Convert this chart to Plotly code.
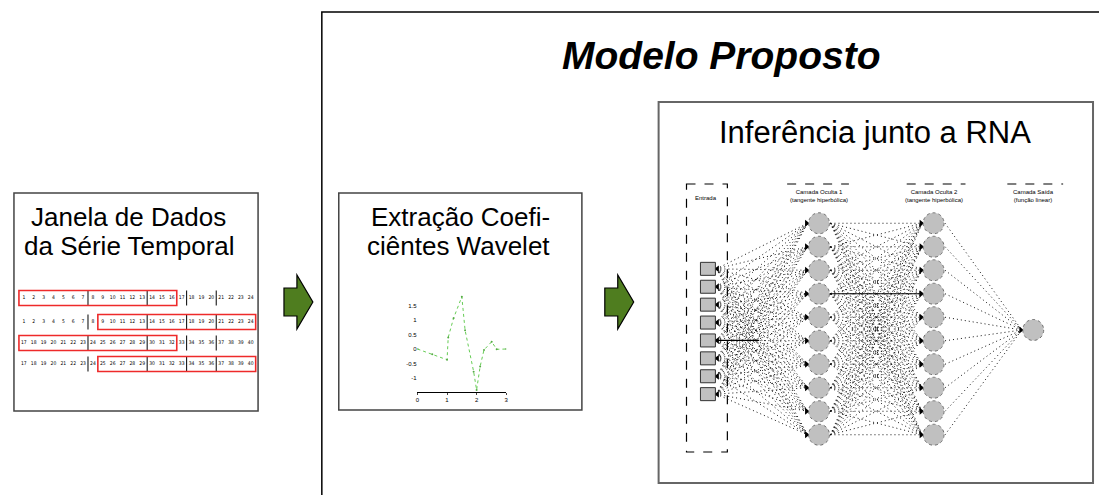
import plotly.graph_objects as go

# ---------------- data ----------------
row_numbers = [
    [1, 2, 3, 4, 5, 6, 7, 8, 9, 10, 11, 12, 13, 14, 15, 16, 17, 18, 19, 20, 21, 22, 23, 24],
    [1, 2, 3, 4, 5, 6, 7, 8, 9, 10, 11, 12, 13, 14, 15, 16, 17, 18, 19, 20, 21, 22, 23, 24],
    [17, 18, 19, 20, 21, 22, 23, 24, 25, 26, 27, 28, 29, 30, 31, 32, 33, 34, 35, 36, 37, 38, 39, 40],
    [17, 18, 19, 20, 21, 22, 23, 24, 25, 26, 27, 28, 29, 30, 31, 32, 33, 34, 35, 36, 37, 38, 39, 40],
]
window_start = [0, 8, 0, 8]
window_size = 16
group_breaks = [7, 13, 17, 20]

wavelet_t = [0.0, 0.5, 1.0, 1.04, 1.22, 1.5, 1.61, 1.9, 2.0, 2.12, 2.25, 2.51, 2.68, 3.0]
wavelet_v = [0.0, -0.18, -0.37, 0.4, 1.06, 1.8, 0.65, -0.78, -1.41, -0.6, -0.03, 0.25, -0.01, 0.0]
wavelet_xticks = [0, 1, 2, 3]
wavelet_yticks = [-1, -0.5, 0, 0.5, 1, 1.5]
wavelet_yticktext = ["-1", "-0.5", "0", "0.5", "1", "1.5"]

layer_sizes = [8, 10, 10, 1]
layer_titles = ["Entrada",
                "Camada Oculta 1<br>(tangente hiperbólica)",
                "Camada Oculta 2<br>(tangente hiperbólica)",
                "Camada Saída<br>(função linear)"]

box_titles = {
    "janela": ["Janela de Dados", "da Série Temporal"],
    "wavelet": ["Extração Coefi-", "ciêntes Wavelet"],
    "rna": "Inferência junto a RNA",
    "modelo": "Modelo Proposto",
}

# ---------------- layout constants ----------------
W, H = 1101, 495
FONT = "Liberation Sans, Arial, sans-serif"
GRID_X0, CELL_W = 17, 9.9
ROW_Y = [298, 322, 343, 364]
ROW_H = 15

LAYER_X = [708.5, 820, 935, 1035]
LAYER_CY = [331.5, 329, 329, 330]
LAYER_SP = [17.9, 23.5, 23.5, 0]
NODE_R = 10.5
SQ_W, SQ_H = 15, 13

fig = go.Figure()
shapes = []
annotations = []

def rect(x0, y0, x1, y1, color="#444", width=1.5, dash="solid", fill="rgba(0,0,0,0)", layer="below"):
    shapes.append(dict(type="rect", xref="x", yref="y", x0=x0, y0=y0, x1=x1, y1=y1,
                       line=dict(color=color, width=width, dash=dash), fillcolor=fill, layer=layer))

def line(x0, y0, x1, y1, color="black", width=1, dash="solid"):
    shapes.append(dict(type="line", xref="x", yref="y", x0=x0, y0=y0, x1=x1, y1=y1,
                       line=dict(color=color, width=width, dash=dash)))

def text(x, y, s, size, bold=False, italic=False, color="black", xanchor="center"):
    if italic:
        s = "<i>" + s + "</i>"
    if bold:
        s = "<b>" + s + "</b>"
    annotations.append(dict(x=x, y=y, xref="x", yref="y", text=s, showarrow=False,
                            font=dict(family=FONT, size=size, color=color),
                            xanchor=xanchor, yanchor="middle"))

# outer box "Modelo Proposto"
rect(321, 12, 1110, 505, color="black", width=1.5)
text(722, 55, box_titles["modelo"], 39, bold=True, italic=True)

# left box
rect(12, 193, 257, 411, color="#444", width=1.5)
text(127, 217, box_titles["janela"][0], 26)
text(128, 246, box_titles["janela"][1], 26)

# number grid
gx, gy, gt = [], [], []
for r, nums in enumerate(row_numbers):
    for i, n in enumerate(nums):
        gx.append(GRID_X0 + (i + 0.5) * CELL_W)
        gy.append(ROW_Y[r])
        gt.append(str(n))
    for b in group_breaks:
        xb = GRID_X0 + b * CELL_W
        line(xb, ROW_Y[r] - ROW_H / 2, xb, ROW_Y[r] + ROW_H / 2, color="black", width=1)
    s = window_start[r]
    shapes.append(dict(type="rect", xref="x", yref="y",
                       x0=GRID_X0 + s * CELL_W, x1=GRID_X0 + (s + window_size) * CELL_W,
                       y0=ROW_Y[r] - ROW_H / 2, y1=ROW_Y[r] + ROW_H / 2,
                       line=dict(color="#ee2a2a", width=1.6)))
fig.add_trace(go.Scatter(x=gx, y=gy, text=gt, mode="text",
                         textfont=dict(family="DejaVu Sans Condensed, Liberation Sans", size=5, color="#000"),
                         hoverinfo="skip", showlegend=False))

# green arrows
for ax in [283, 605]:
    cy = 302
    path = (f"M {ax},{cy-14} L {ax+13},{cy-14} L {ax+13},{cy-27} L {ax+29},{cy} "
            f"L {ax+13},{cy+27} L {ax+13},{cy+14} L {ax},{cy+14} Z")
    shapes.append(dict(type="path", xref="x", yref="y", path=path,
                       fillcolor="#4f7d1f", line=dict(color="black", width=1.2)))

# middle box
rect(338, 193, 582, 410, color="#444", width=1.5)
text(460, 217, box_titles["wavelet"][0], 26)
text(458, 246, box_titles["wavelet"][1], 26)

fig.add_trace(go.Scatter(x=wavelet_t, y=wavelet_v, mode="lines+markers",
                         line=dict(color="#66cc55", width=1, dash="dot"),
                         marker=dict(size=2, color="#55aa44"),
                         xaxis="x2", yaxis="y2", hoverinfo="skip", showlegend=False))

# RNA box
rect(659, 102, 1095, 483, color="#666", width=2)
text(876, 132, box_titles["rna"], 31)

# network geometry
layers = []
for k, n in enumerate(layer_sizes):
    ys = [LAYER_CY[k] + (j - (n - 1) / 2) * LAYER_SP[k] for j in range(n)]
    layers.append(ys)

# input dashed box
rect(687, 184, 728, 452, color="black", width=1.2, dash="dash")
text(707, 198, layer_titles[0], 6)
# header dashed lines + labels
for k, (x0, x1) in zip([1, 2, 3], [(788, 850), (908, 967), (1009, 1065)]):
    line(x0, 184, x1, 184, color="black", width=1.2, dash="dash")
    text(LAYER_X[k], 196, layer_titles[k], 6)

def edge_x(k, side):
    if k == 0:
        return LAYER_X[0] + SQ_W / 2 if side == "r" else LAYER_X[0] - SQ_W / 2
    return LAYER_X[k] + NODE_R if side == "r" else LAYER_X[k] - NODE_R

# connections
cx, cy = [], []
for k in range(3):
    for ya in layers[k]:
        for yb in layers[k + 1]:
            cx += [edge_x(k, "r") + 1, edge_x(k + 1, "l") - 1, None]
            cy += [ya, yb, None]
fig.add_trace(go.Scatter(x=cx, y=cy, mode="lines",
                         line=dict(color="#111", width=1, dash="1px,3px"),
                         hoverinfo="skip", showlegend=False))

# highlighted solid connections
line(edge_x(0, "r"), layers[0][4], 760, layers[0][4], color="black", width=1.2)
line(edge_x(1, "r"), layers[1][3], edge_x(2, "l"), layers[2][3], color="black", width=1.2)

# input squares
for y in layers[0]:
    rect(LAYER_X[0] - SQ_W / 2, y - SQ_H / 2, LAYER_X[0] + SQ_W / 2, y + SQ_H / 2,
         color="#333", width=1, fill="#c0c0c0", layer="above")

# arrowheads
ahx, ahy, ahs = [], [], []
for k in range(1, 4):
    for y in layers[k]:
        ahx.append(edge_x(k, "l") - 2)
        ahy.append(y)
        ahs.append("triangle-right")
for y in layers[0]:
    ahx.append(edge_x(0, "r") + 2)
    ahy.append(y)
    ahs.append("triangle-left")
fig.add_trace(go.Scatter(x=ahx, y=ahy, mode="markers",
                         marker=dict(symbol=ahs, size=6, color="black"),
                         hoverinfo="skip", showlegend=False))

# neuron circles
for k in range(1, 4):
    for y in layers[k]:
        shapes.append(dict(type="circle", xref="x", yref="y",
                           x0=LAYER_X[k] - NODE_R, x1=LAYER_X[k] + NODE_R,
                           y0=y - NODE_R, y1=y + NODE_R, fillcolor="#c0c0c0",
                           line=dict(color="#555", width=0.8, dash="dot"), layer="above"))

fig.update_layout(
    width=W, height=H, margin=dict(l=0, r=0, t=0, b=0),
    paper_bgcolor="white", plot_bgcolor="white",
    xaxis=dict(range=[0, W], visible=False, fixedrange=True),
    yaxis=dict(range=[H, 0], visible=False, fixedrange=True),
    xaxis2=dict(domain=[417 / W, 506 / W], range=[0, 3], anchor="y2",
                tickvals=wavelet_xticks, ticktext=[str(v) for v in wavelet_xticks],
                tickfont=dict(family=FONT, size=6, color="black"),
                showline=True, linecolor="black", linewidth=1, ticks="outside", ticklen=2,
                showgrid=False, zeroline=False, fixedrange=True),
    yaxis2=dict(domain=[1 - 392 / H, 1 - 295 / H], range=[-1.48, 1.86], anchor="x2",
                tickvals=wavelet_yticks, ticktext=wavelet_yticktext,
                tickfont=dict(family=FONT, size=6, color="black"),
                showline=False, ticks="", showgrid=False, zeroline=False, fixedrange=True),
    shapes=shapes, annotations=annotations, showlegend=False,
)

fig.write_html("out.html", config={"displayModeBar": False},
               post_script="document.body.style.margin='0';document.body.style.overflow='hidden';")
